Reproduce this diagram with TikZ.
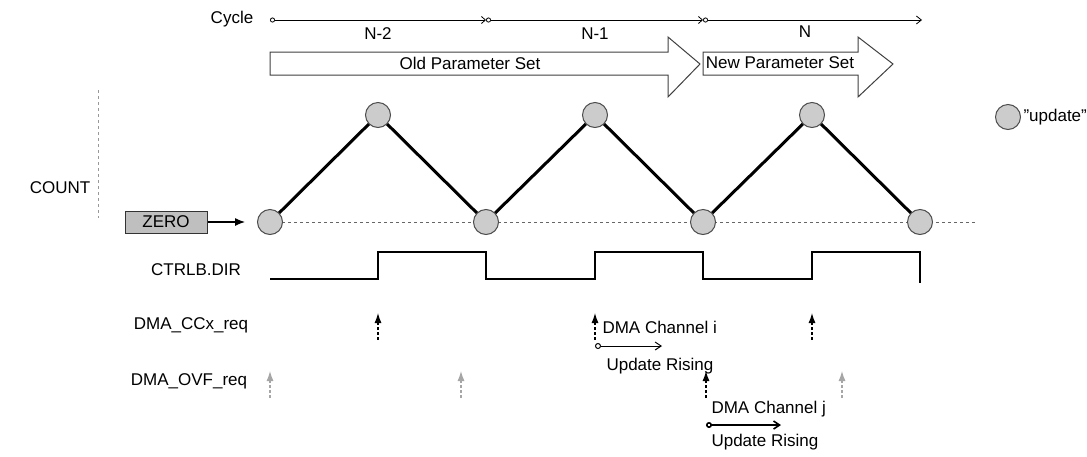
\documentclass[tikz,border=0pt]{standalone}
\usepackage{fontspec}
\setmainfont{Liberation Sans}
\usetikzlibrary{arrows.meta,shapes.arrows}
\begin{document}
\begin{tikzpicture}[x=1pt,y=-1pt,
  lbl/.style={font=\fontsize{17}{19}\selectfont},
  upd/.style={circle,draw=black!70,fill=black!20,line width=1pt,minimum size=25pt,inner sep=0pt},
  req/.style={-{Latex[length=10pt,width=7pt]},densely dashed,line width=1.2pt},
  greq/.style={req,draw=black!35},
  small/.style={{Circle[open,length=6pt]}-{Straight Barb[length=6pt,width=8pt]},line width=1pt},
  bigarrow/.style={draw=black!75,fill=white,line width=1pt}]
\useasboundingbox (0,0) rectangle (1087,456);
% cycle
\node[lbl] (cyc) at (232,19) {Cycle};
\coordinate (c0) at (270,20); \coordinate (c1) at (486,20); \coordinate (c2) at (703,20); \coordinate (c3) at (922,20);
\draw[{Circle[open,length=5pt]}-{Straight Barb[length=4pt,width=7pt]},line width=0.8pt] (c0) -- (c1);
\draw[{Circle[open,length=5pt]}-{Straight Barb[length=4pt,width=7pt]},line width=0.8pt] (c1) -- (c2);
\draw[{Circle[open,length=5pt]}-{Straight Barb[length=5pt,width=8pt]},line width=0.8pt] (c2) -- (c3);
\node[lbl] (n2) at (378,34) {N-2};
\node[lbl] (n1) at (595,34) {N-1};
\node[lbl] (n0) at (805,32) {N};
% parameter arrows
\draw[bigarrow] (270,52) -- (668,52) -- (668,37) -- (700,64) -- (668,97) -- (668,75) -- (270,75) -- cycle;
\node[lbl] (old) at (470,63) {Old Parameter Set};
\draw[bigarrow] (703,52) -- (858,52) -- (858,37) -- (893,64) -- (858,97) -- (858,75) -- (703,75) -- cycle;
\node[lbl] (new) at (780,63) {New Parameter Set};
% count
\draw[black!40,dashed,line width=0.8pt] (98,90) -- (98,218);
\node[lbl] (count) at (60,188) {COUNT};
\node[draw=black!80,fill=black!25,line width=1pt,minimum width=82pt,minimum height=22pt,inner sep=0pt,lbl] (zero) at (166,222) {ZERO};
\coordinate (za) at (245,222);
\draw[-{Latex[length=10pt,width=8pt]},line width=1.2pt] (zero) -- (za);
\draw[black!60,dashed,line width=0.8pt] (270,222) -- (975,222);
\draw[line width=3pt] (270,222) -- (378,115) -- (486,222) -- (595,115) -- (703,222) -- (812,115) -- (920,222);
\foreach \x/\y [count=\i] in {270/222,378/115,486/222,595/115,703/222,812/115,920/222}
  \node[upd] (u\i) at (\x,\y) {};
\node[upd] (leg) at (1008,117) {};
\node[lbl,anchor=west] (legt) at (1020,117) {\symbol{34}update\symbol{34}};
% ctrlb.dir
\node[lbl] (dir) at (196,270) {CTRLB.DIR};
\draw[line width=2pt] (270,279) -- (378,279) -- (378,252) -- (486,252) -- (486,279) -- (595,279) -- (595,252) -- (703,252) -- (703,279) -- (812,279) -- (812,252) -- (920,252) -- (920,283);
% dma ccx
\node[lbl] (ccx) at (191,325) {DMA\_CCx\_req};
\foreach \x [count=\i] in {378,595,812} {\coordinate (ca\i) at (\x,340); \coordinate (cb\i) at (\x,313); \draw[req] (ca\i) -- (cb\i);}
\node[lbl,anchor=west] (chi) at (599,327) {DMA Channel i};
\coordinate (ri0) at (595,346); \coordinate (ri1) at (662,346);
\draw[small] (ri0) -- (ri1);
\node[lbl,anchor=west] (ur1) at (603,366) {Update Rising};
% dma ovf
\node[lbl] (ovf) at (189,381) {DMA\_OVF\_req};
\foreach \x [count=\i] in {270,461,842} {\coordinate (oa\i) at (\x,398); \coordinate (ob\i) at (\x,371); \draw[greq] (oa\i) -- (ob\i);}
\coordinate (ja) at (706,398); \coordinate (jb) at (706,371);
\draw[req] (ja) -- (jb);
\node[lbl,anchor=west] (chj) at (708,409) {DMA Channel j};
\coordinate (rj0) at (706,425); \coordinate (rj1) at (781,425);
\draw[small,line width=1.6pt] (rj0) -- (rj1);
\node[lbl,anchor=west] (ur2) at (708,442) {Update Rising};
\end{tikzpicture}
\end{document}
